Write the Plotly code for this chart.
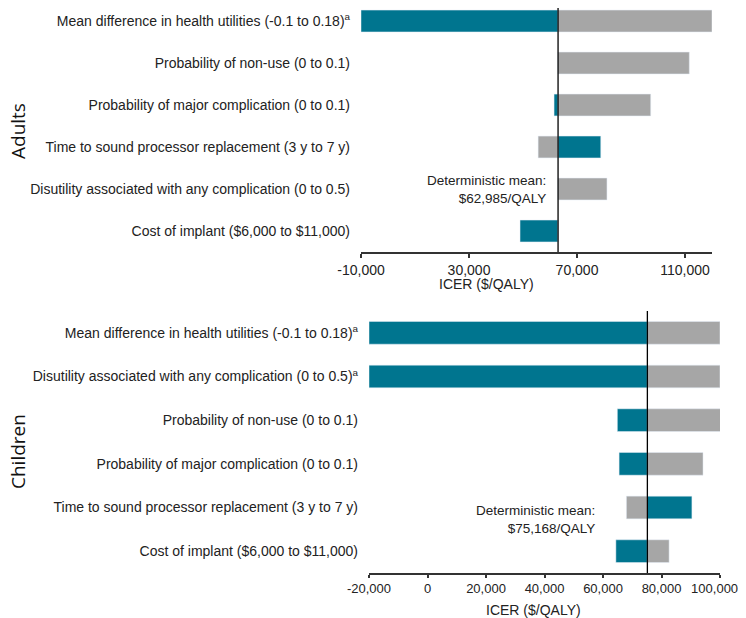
import plotly.graph_objects as go
from plotly.subplots import make_subplots

# adults
params_adults = [
    "Mean difference in health utilities (-0.1 to 0.18)<sup>a</sup>",
    "Probability of non-use (0 to 0.1)",
    "Probability of major complication (0 to 0.1)",
    "Time to sound processor replacement (3 y to 7 y)",
    "Disutility associated with any complication (0 to 0.5)",
    "Cost of implant ($6,000 to $11,000)",
]
mean_adults = 62985
teal_adults = [-10000, 62985, 61500, 78800, 62985, 48900]
gray_adults = [120000, 111600, 97300, 55600, 81100, 62985]

# children
params_children = [
    "Mean difference in health utilities (-0.1 to 0.18)<sup>a</sup>",
    "Disutility associated with any complication (0 to 0.5)<sup>a</sup>",
    "Probability of non-use (0 to 0.1)",
    "Probability of major complication (0 to 0.1)",
    "Time to sound processor replacement (3 y to 7 y)",
    "Cost of implant ($6,000 to $11,000)",
]
mean_children = 75168
teal_children = [-20000, -20000, 64900, 65500, 90400, 64400]
gray_children = [100000, 100000, 100300, 94200, 68000, 82600]

ticks_adults = [-10000, 30000, 70000, 110000]
ticks_children = [-20000, 0, 20000, 40000, 60000, 80000, 100000]

TEAL = "#00758f"
GRAY = "#a6a6a6"
W, H = 738, 610

fig = make_subplots(rows=2, cols=1)


def add_panel(row, params, mean, teal, gray):
    fig.add_trace(go.Bar(y=params, x=[v - mean for v in teal], base=mean,
                         orientation="h", marker_color=TEAL, width=0.52),
                  row=row, col=1)
    fig.add_trace(go.Bar(y=params, x=[v - mean for v in gray], base=mean,
                         orientation="h", marker_color=GRAY, width=0.52),
                  row=row, col=1)
    fig.add_vline(x=mean, line_color="black", line_width=1.3, row=row, col=1)


add_panel(1, params_adults, mean_adults, teal_adults, gray_adults)
add_panel(2, params_children, mean_children, teal_children, gray_children)

font = dict(family="Liberation Sans, Arial, sans-serif", size=14, color="#222")

# nudge the last children tick label left so it stays inside the window
ticktext_children = [f"{v:,}" for v in ticks_children]
ticktext_children[-1] += "&nbsp;&nbsp;&nbsp;"

fig.update_layout(
    width=W, height=H, margin=dict(l=0, r=0, t=0, b=0),
    barmode="overlay", showlegend=False,
    plot_bgcolor="white", paper_bgcolor="white", font=font,
    xaxis=dict(domain=[353 / W, 704 / W], range=[-10000, 120000], ticklen=4,
               tickvals=ticks_adults, ticktext=[f"{v:,}" for v in ticks_adults]),
    yaxis=dict(domain=[(H - 244) / H, 1.0], range=[5.5, -0.31]),
    xaxis2=dict(domain=[361 / W, 712 / W], range=[-20000, 100000], ticklen=3,
                tickfont=dict(size=13),
                tickvals=ticks_children, ticktext=ticktext_children),
    yaxis2=dict(domain=[(H - 565) / H, (H - 303) / H], range=[5.5, -0.5]),
)
fig.update_xaxes(showgrid=False, zeroline=False, showline=True, linecolor="#333",
                 linewidth=1.5, ticks="outside", tickcolor="#333",
                 tickwidth=1.5, automargin=False, ticklabeloverflow="allow")
fig.update_yaxes(type="category", showgrid=False, zeroline=False, showline=False,
                 ticks="", ticklabelstandoff=10, automargin=False)

# axis titles
for xpx, ypx in [(528, 276), (575, 602)]:
    fig.add_annotation(x=xpx / W, y=(H - ypx) / H, xref="paper", yref="paper",
                       text="ICER ($/QALY)", showarrow=False, yanchor="middle",
                       font=dict(size=14))

# deterministic mean notes
fig.add_annotation(x=mean_adults, y=params_adults[4], xref="x", yref="y",
                   text=f"Deterministic mean:<br>${mean_adults:,}/QALY",
                   showarrow=False, xanchor="right", align="right", xshift=-10,
                   font=dict(size=13.5))
fig.add_annotation(x=mean_children, y=params_children[4], xref="x2", yref="y2",
                   text=f"Deterministic mean:<br>${mean_children:,}/QALY",
                   showarrow=False, xanchor="right", align="right", xshift=-50,
                   yshift=-12, font=dict(size=13.5))

# panel labels
for label, ypx in [("Adults", 123), ("Children", 444)]:
    fig.add_annotation(x=-5 / W, y=(H - ypx) / H, xref="paper", yref="paper",
                       text=label, textangle=-90, showarrow=False,
                       xanchor="left", yanchor="middle",
                       font=dict(family="Open Sans, Noto Sans, sans-serif",
                                 size=19, color="#111"))

fig.write_html("out.html")
